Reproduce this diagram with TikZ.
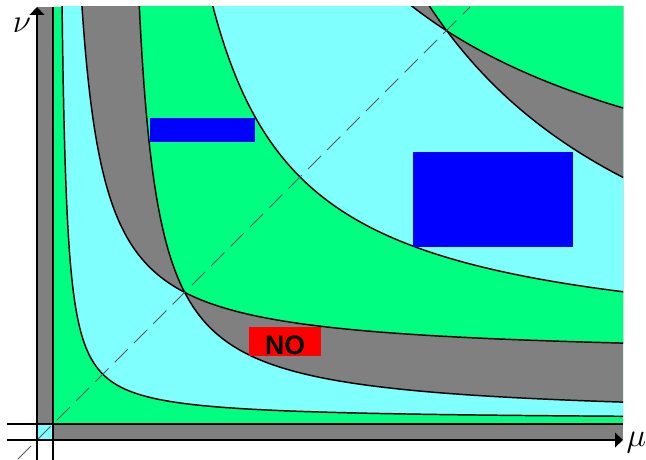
\documentclass[tikz,border=0pt]{standalone}
\usepackage{fontspec}
\newfontfamily\labelfont{Liberation Sans}
\usetikzlibrary{arrows.meta}

\definecolor{zonegreen}{HTML}{00FF80}
\definecolor{zonecyan}{HTML}{80FFFF}
\definecolor{zonegray}{HTML}{808080}
\definecolor{zoneblue}{HTML}{0000FF}
\definecolor{zonered}{HTML}{FF0000}

% one branch of (mu-a)(nu-b)=k^2
\newcommand{\hyperbranch}[5]{%
  plot[domain=#4:#5, samples=90, smooth, variable=\t]
  ({#1+#3*exp(\t)}, {#2+#3*exp(-\t)})}

\tikzset{
  bdline/.style={line width=1.1pt},
  axisline/.style={line width=1.1pt},
  axistip/.style={-{Triangle[length=6pt,width=11pt]}},
  axislabel/.style={font=\Huge},
  diagline/.style={black!65, line width=0.6pt, dash pattern=on 14pt off 6.5pt},
  nobox/.style={fill=zonered, minimum width=54pt, minimum height=21.75pt,
    inner sep=0pt, text height=18.8pt, text depth=0pt,
    font=\fontsize{20}{24}\selectfont\labelfont\bfseries}
}

\begin{document}
\begin{tikzpicture}[x=0.75pt, y=0.75pt]

    \useasboundingbox (-53,-36) rectangle (593,424);

    % Zones between the curves
    \begin{scope}
      \clip (0,0) rectangle (570,417);
      \fill[zonegreen] (0,0) rectangle (570,417);
      \fill[zonecyan] \hyperbranch{4}{4}{45.8}{-2.27}{2.55} -- (600,460) -- cycle;

      % Lower crossing band
      \fill[zonegray] \hyperbranch{66.3}{5.5}{90.8}{-1.6}{1.75} -- (600,460) -- cycle;
      \fill[zonegray] \hyperbranch{5.5}{66.3}{90.8}{-1.45}{1.87} -- (600,460) -- cycle;
      \begin{scope}
        \clip \hyperbranch{66.3}{5.5}{90.8}{-1.6}{1.75} -- (600,460) -- cycle;
        \fill[zonegreen] \hyperbranch{5.5}{66.3}{90.8}{-1.45}{1.87} -- (600,460) -- cycle;
      \end{scope}

      \fill[zonecyan] \hyperbranch{69}{69}{178}{-0.75}{1.07} -- (600,460) -- cycle;

      % Upper crossing band
      \fill[zonegray] \hyperbranch{105.1}{6.3}{334.2}{-0.27}{0.36} -- (600,460) -- cycle;
      \fill[zonegray] \hyperbranch{17.7}{151.4}{301.5}{0.04}{0.63} -- (600,460) -- cycle;
      \begin{scope}
        \clip \hyperbranch{105.1}{6.3}{334.2}{-0.27}{0.36} -- (600,460) -- cycle;
        \fill[zonegreen] \hyperbranch{17.7}{151.4}{301.5}{0.04}{0.63} -- (600,460) -- cycle;
      \end{scope}

      % Boundary curves
      \foreach \a/\b/\k/\s/\e in {4/4/45.8/-2.27/2.55, 66.3/5.5/90.8/-1.6/1.75,
          5.5/66.3/90.8/-1.45/1.87, 69/69/178/-0.75/1.07,
          105.1/6.3/334.2/-0.27/0.36, 17.7/151.4/301.5/0.04/0.63}
      \draw[bdline] \hyperbranch{\a}{\b}{\k}{\s}{\e};
    \end{scope}

    % Strips along the axes
    \fill[zonegray] (-16,0) rectangle (0,417);
    \fill[zonegray] (0,-16) rectangle (570,0);
    \fill[zonecyan] (-16,-16) rectangle (0,0);

    % Blue boxes
    \fill[zoneblue] (97,282) rectangle (202,306);
    \fill[zoneblue] (360,177) rectangle (520,272);

    % Excluded box
    \node[nobox] (no) at (232,82.5) {NO};

    % Diagonal
    \coordinate (dlow) at (-35,-35);
    \coordinate (dhigh) at (417,417);
    \draw[diagline] (dlow) -- (dhigh);

    % Axes
    \coordinate (xleft) at (-46,-16);
    \coordinate (xtip) at (570,-16);
    \coordinate (xinleft) at (-46,0);
    \coordinate (xinright) at (570,0);
    \coordinate (ylow) at (-16,-36);
    \coordinate (ytip) at (-16,417);
    \coordinate (yinlow) at (0,-36);
    \coordinate (yintop) at (0,417);
    \draw[axisline,axistip] (xleft) -- (xtip);
    \draw[axisline] (xinleft) -- (xinright);
    \draw[axisline,axistip] (ylow) -- (ytip);
    \draw[axisline] (yinlow) -- (yintop);

    % Axis labels
    \node[axislabel] (nu) at (-31,399) {$\nu$};
    \node[axislabel] (mu) at (583.5,-19) {$\mu$};

  \end{tikzpicture}
\end{document}
